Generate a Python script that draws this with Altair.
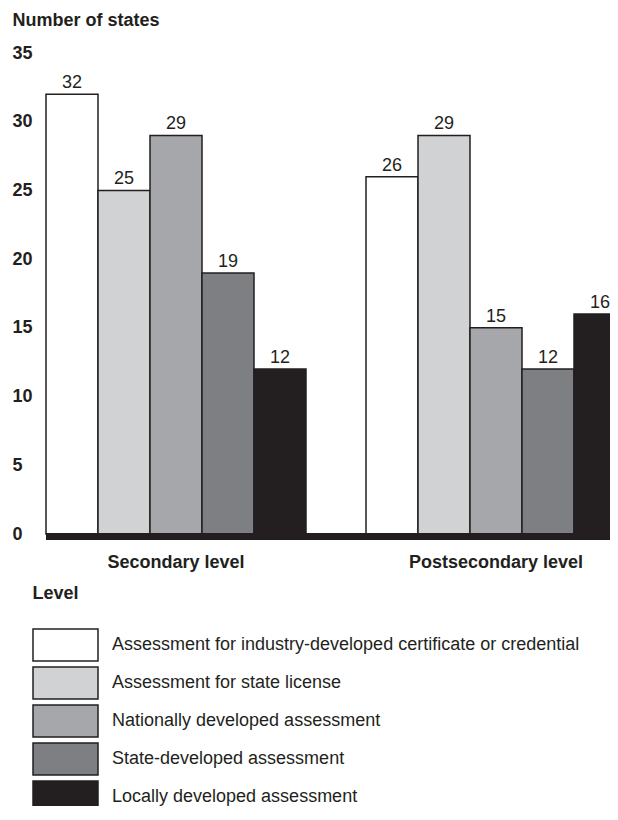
import altair as alt
import pandas as pd

levels = ["Secondary level", "Postsecondary level"]
categories = [
    "Assessment for industry-developed certificate or credential",
    "Assessment for state license",
    "Nationally developed assessment",
    "State-developed assessment",
    "Locally developed assessment",
]
secondary = [32, 25, 29, 19, 12]
postsecondary = [26, 29, 15, 12, 16]
colors = ["#ffffff", "#d1d2d4", "#a6a7aa", "#7e7f82", "#231f20"]
y_ticks = [0, 5, 10, 15, 20, 25, 30, 35]

rows = []
for lvl, vals in zip(levels, [secondary, postsecondary]):
    for c, v in zip(categories, vals):
        rows.append({"level": lvl, "category": c, "value": v})
df = pd.DataFrame(rows)

FONT = "Liberation Sans"
INK = "#231f20"

x_scale = alt.Scale(range=[0, 580], paddingInner=0.1875, paddingOuter=0)
x_enc = alt.X(
    "level:N",
    sort=levels,
    scale=x_scale,
    axis=alt.Axis(
        title="Level",
        labelAngle=0,
        labelFont=FONT,
        labelFontSize=18,
        labelFontWeight="bold",
        labelColor=INK,
        labelPadding=19,
        ticks=False,
        tickSize=0,
        domain=False,
        titleFont=FONT,
        titleFontSize=18,
        titleFontWeight="bold",
        titleColor=INK,
        titleAnchor="start",
        titleAlign="left",
        titleBaseline="middle",
        titleX=-14,
        titleY=59,
    ),
)
xoff = alt.XOffset("category:N", sort=categories, scale=alt.Scale(paddingInner=0, paddingOuter=0))
y_enc = alt.Y(
    "value:Q",
    scale=alt.Scale(domain=[0, 35], nice=False),
    axis=alt.Axis(
        values=y_ticks,
        title="Number of states",
        grid=False,
        domain=False,
        ticks=False,
        tickSize=0,
        labelAlign="left",
        labelPadding=34,
        labelFont=FONT,
        labelFontSize=18,
        labelFontWeight="bold",
        labelColor=INK,
        titleFont=FONT,
        titleFontSize=18,
        titleFontWeight="bold",
        titleColor=INK,
        titleAngle=0,
        titleAlign="left",
        titleAnchor="end",
        titleBaseline="middle",
        titleX=-34,
        titleY=-33,
    ),
)

bars = alt.Chart(df).mark_bar(stroke=INK, strokeWidth=1.5, opacity=1).encode(
    x=x_enc,
    xOffset=xoff,
    y=y_enc,
    color=alt.Color(
        "category:N",
        sort=categories,
        scale=alt.Scale(domain=categories, range=colors),
        legend=alt.Legend(
            orient="none",
            legendX=-14,
            legendY=575,
            title=None,
            symbolType="M-1,-1H3.0625V1H-1Z",
            symbolSize=1024,
            symbolStrokeColor=INK,
            symbolStrokeWidth=1.5,
            symbolOpacity=1,
            labelFont=FONT,
            labelFontSize=18,
            labelColor=INK,
            labelOffset=46,
            labelLimit=700,
            rowPadding=0,
        ),
    ),
)

labels = alt.Chart(df).mark_text(
    font=FONT, fontSize=18, color=INK, baseline="alphabetic", dy=-6
).encode(
    x=alt.X("level:N", sort=levels, scale=x_scale),
    xOffset=xoff,
    y="value:Q",
    text="value:Q",
)

baseline = alt.Chart(df).mark_rule(color=INK, strokeWidth=6, yOffset=2.5).encode(
    y=alt.datum(0)
)

chart = (
    alt.layer(bars, labels, baseline)
    .properties(
        width=564,
        height=481,
        autosize=alt.AutoSizeParams(type="none"),
        padding={"left": 38, "top": 45, "right": 0, "bottom": 272},
    )
    .configure_view(stroke=None)
)

chart.save("out.html", embed_options={"renderer": "svg", "actions": False})
